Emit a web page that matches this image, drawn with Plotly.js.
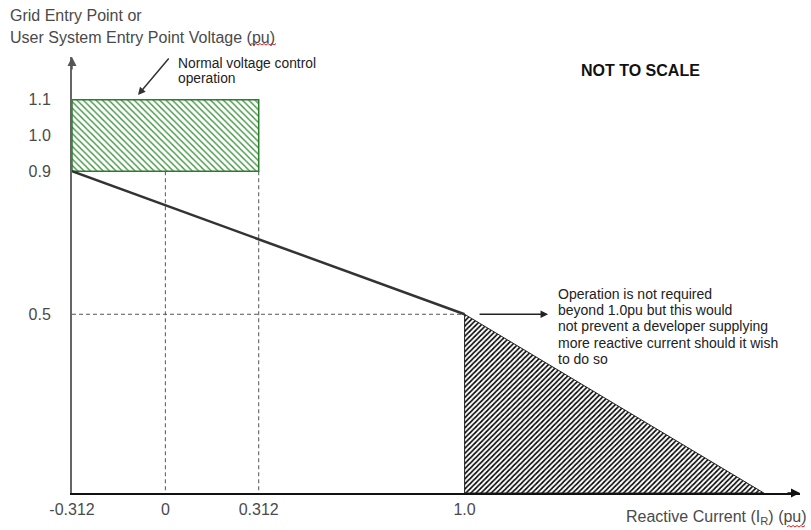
<!DOCTYPE html>
<html>
<head>
<meta charset="utf-8">
<script src="https://cdn.plot.ly/plotly-3.0.1.min.js"></script>
<style>html,body{margin:0;padding:0;background:#fff;} #chart{width:811px;height:530px;}</style>
</head>
<body>
<div id="chart"></div>
<script>
// ---- data (pu values, diagram is "not to scale") ----
const xTickVals = [-0.312, 0, 0.312, 1.0];
const xTickText = ['-0.312', '0', '0.312', '1.0'];
const yTickVals = [0.5, 0.9, 1.0, 1.1];
const yTickText = ['0.5', '0.9', '1.0', '1.1'];

// characteristic line: voltage vs reactive current
const lineX = [-0.312, 1.0];
const lineY = [0.9, 0.5];

// normal voltage control band
const bandX = [-0.312, 0.312, 0.312, -0.312, -0.312];
const bandY = [0.9, 0.9, 1.1, 1.1, 0.9];

// region beyond 1.0 pu (operation not required)
const triX = [1.0, 1.0, 2.0, 1.0];
const triY = [0.5, 0.0, 0.0, 0.5];

// dashed guide lines
const guideV0X = [0, 0];         const guideV0Y = [0.9, 0];
const guideV1X = [0.312, 0.312]; const guideV1Y = [0.9, 0];
const guideHX = [-0.312, 1.0];   const guideHY = [0.5, 0.5];

// texts
const yTitleLines = ['Grid Entry Point or', 'User System Entry Point Voltage (pu)'];
const xTitle = 'Reactive Current (I<sub>R</sub>) (pu)';
const bandNoteLines = ['Normal voltage control', 'operation'];
const opNoteLines = ['Operation is not required', 'beyond 1.0pu but this would',
  'not prevent a developer supplying', 'more reactive current should it wish', 'to do so'];

const FONT = 'Liberation Sans, Arial, sans-serif';
const TXT = '#4a4a4a';
const W = 811, H = 530, ML = 72, MR = 11, MT = 57, MB = 37;
const PW = W - ML - MR, PH = H - MT - MB;
const px = v => (v - ML) / PW;          // pixel -> paper x
const py = v => (H - MB - v) / PH;      // pixel -> paper y

const dash = {color: '#555', width: 1, dash: '4px,3px'};
const traces = [
  {x: guideV0X, y: guideV0Y, mode: 'lines', line: dash, hoverinfo: 'skip'},
  {x: guideV1X, y: guideV1Y, mode: 'lines', line: dash, hoverinfo: 'skip'},
  {x: guideHX, y: guideHY, mode: 'lines', line: dash, hoverinfo: 'skip'},
  {x: bandX, y: bandY, mode: 'lines', fill: 'toself',
   fillcolor: 'rgba(255,255,255,0)',
   fillpattern: {shape: '\\', fgcolor: '#3a913a', bgcolor: '#ffffff', size: 4.5, solidity: 0.3},
   line: {color: '#2a7d2a', width: 1.5}, hoverinfo: 'skip'},
  {x: triX, y: triY, mode: 'lines', fill: 'toself',
   fillpattern: {shape: '/', fgcolor: '#000000', bgcolor: '#ffffff', size: 3.6, solidity: 0.45},
   line: {color: '#222', width: 1}, hoverinfo: 'skip'},
  {x: lineX, y: lineY, mode: 'lines', line: {color: '#333', width: 2.5}, hoverinfo: 'skip'}
];

const annotations = [
  // axis arrowheads
  {xref: 'paper', yref: 'paper', x: 1, y: 0, ax: -14, ay: 0, text: '', showarrow: true,
   arrowhead: 2, arrowsize: 1.2, arrowwidth: 1.5, arrowcolor: '#111'},
  {xref: 'paper', yref: 'paper', x: 0, y: 1, ax: 0, ay: 14, text: '', showarrow: true,
   arrowhead: 2, arrowsize: 1.2, arrowwidth: 1.5, arrowcolor: '#555'},
  // x title
  {xref: 'paper', yref: 'paper', x: px(809), y: py(517), xanchor: 'right', yanchor: 'middle',
   text: xTitle, showarrow: false, font: {family: FONT, size: 16, color: TXT}},
  // NOT TO SCALE
  {xref: 'paper', yref: 'paper', x: px(640), y: py(70), xanchor: 'center', yanchor: 'middle',
   text: '<b>NOT TO SCALE</b>', showarrow: false, font: {family: FONT, size: 16, color: '#111'}},
  // band note arrow
  {xref: 'paper', yref: 'paper', x: px(138), y: py(95), ax: 32, ay: -38, text: '', showarrow: true,
   arrowhead: 2, arrowsize: 1, arrowwidth: 1.5, arrowcolor: '#333'},
  // operation note arrow
  {xref: 'x', yref: 'y', x: 1.279, y: 0.5, ax: -70, ay: 0, text: '', showarrow: true,
   arrowhead: 2, arrowsize: 1, arrowwidth: 1.5, arrowcolor: '#222'}
];
yTitleLines.forEach((t, i) => annotations.push({
  xref: 'paper', yref: 'paper', x: px(8), y: py(15 + 22 * i), xanchor: 'left', yanchor: 'middle',
  text: t, showarrow: false, font: {family: FONT, size: 16, color: TXT}}));
bandNoteLines.forEach((t, i) => annotations.push({
  xref: 'paper', yref: 'paper', x: px(176), y: py(63 + 15 * i), xanchor: 'left', yanchor: 'middle',
  text: t, showarrow: false, font: {family: FONT, size: 13.8, color: '#222'}}));
opNoteLines.forEach((t, i) => annotations.push({
  xref: 'paper', yref: 'paper', x: px(556), y: py(294 + 16.2 * i), xanchor: 'left', yanchor: 'middle',
  text: t, showarrow: false, font: {family: FONT, size: 14, color: '#222'}}));

// red spell-check squiggles under "pu"
function squiggle(x0, x1, y) {
  let d = 'M' + px(x0) + ',' + py(y);
  let up = true;
  for (let x = x0 + 2; x <= x1; x += 2) { d += ' L' + px(x) + ',' + py(y + (up ? -1.5 : 0)); up = !up; }
  return {type: 'path', xref: 'paper', yref: 'paper', path: d, line: {color: '#e02020', width: 1}};
}

const layout = {
  width: W, height: H,
  margin: {l: ML, r: MR, t: MT, b: MB},
  paper_bgcolor: '#fff', plot_bgcolor: '#fff',
  showlegend: false,
  font: {family: FONT, size: 16, color: TXT},
  xaxis: {
    range: [-0.312, 2.121], showgrid: false, zeroline: false,
    showline: true, linecolor: '#111', linewidth: 1.5,
    tickvals: xTickVals, ticktext: xTickText, ticks: '',
    tickfont: {family: FONT, size: 16, color: TXT}, ticklabelstandoff: 1
  },
  yaxis: {
    range: [0, 1.2196], showgrid: false, zeroline: false,
    showline: true, linecolor: '#666', linewidth: 2,
    tickvals: yTickVals, ticktext: yTickText, ticks: '',
    tickfont: {family: FONT, size: 16, color: TXT}, ticklabelstandoff: 16
  },
  annotations: annotations,
  shapes: [squiggle(250, 276, 45), squiggle(787, 806, 527)]
};

Plotly.newPlot('chart', traces, layout, {displayModeBar: false, staticPlot: true});
</script>
</body>
</html>
